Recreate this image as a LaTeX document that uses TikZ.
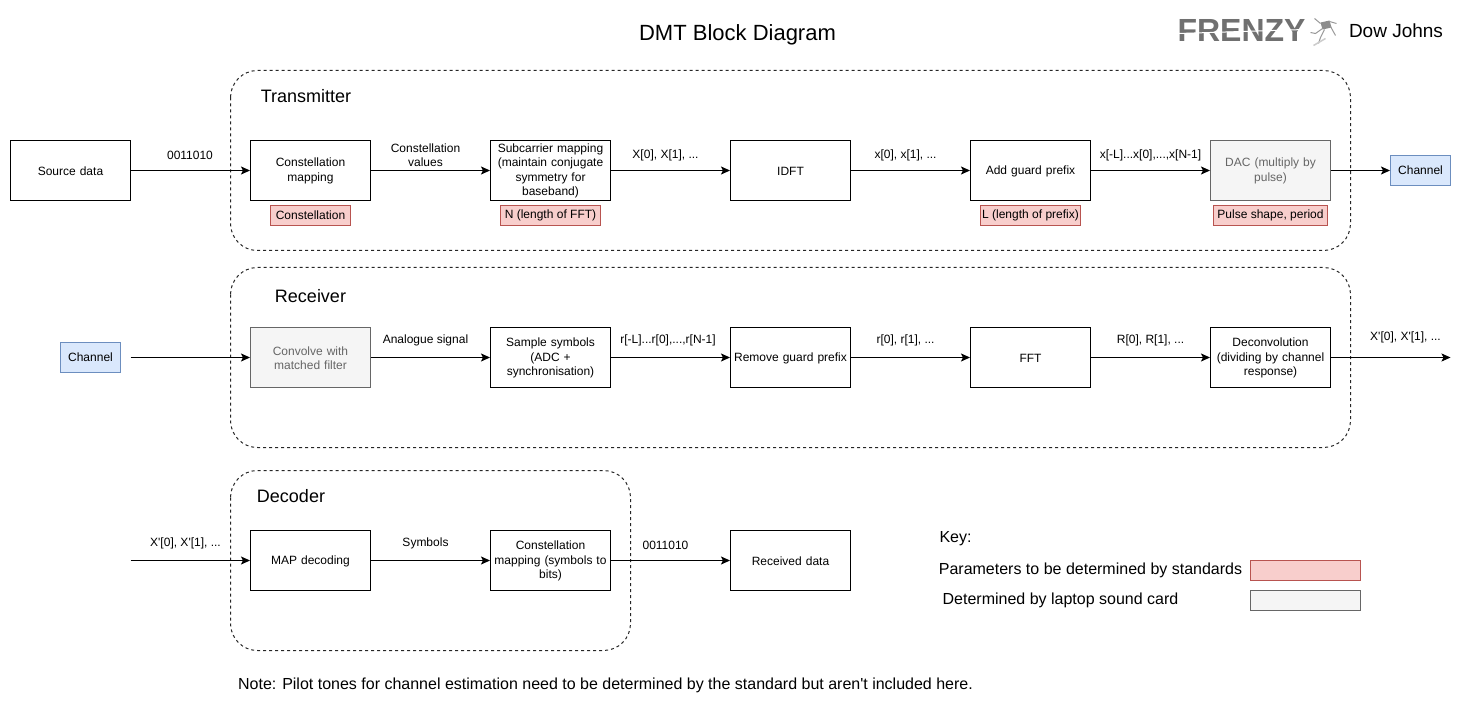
\documentclass[tikz,border=0pt]{standalone}
\usepackage{fontspec}
\setmainfont{Liberation Sans}[Ligatures=TeXOff]
\usetikzlibrary{arrows.meta}
\definecolor{paramfill}{HTML}{F8CECC}
\definecolor{paramline}{HTML}{B85450}
\definecolor{chanfill}{HTML}{DAE8FC}
\definecolor{chanline}{HTML}{6C8EBF}
\definecolor{soundfill}{HTML}{F5F5F5}
\definecolor{soundline}{HTML}{666666}
\definecolor{logogrey}{HTML}{707070}

\begin{document}
\begin{tikzpicture}
            [x=1pt,y=-1pt,line width=1pt,font=\fontsize{12}{14.4}\selectfont,
            block/.style={draw=black,fill=white,minimum width=120pt,minimum height=60pt,inner sep=1pt,align=center,text width=118pt,execute at begin node={\rule{0pt}{9.6pt}}},
            sound/.style={block,draw=soundline,fill=soundfill,text=soundline},
            param/.style={draw=paramline,fill=paramfill,minimum height=20pt,inner sep=1pt,align=center},
            soundkey/.style={draw=soundline,fill=soundfill,minimum height=20pt,inner sep=1pt},
            channel/.style={draw=chanline,fill=chanfill,minimum width=60pt,minimum height=30pt,inner sep=1pt},
            frame/.style={draw=black!85,dash pattern=on 3pt off 3pt,rounded corners=27pt},
            label/.style={inner sep=0pt,align=center},
            heading/.style={label,font=\fontsize{18}{22}\selectfont},
            keytext/.style={label,font=\fontsize{16}{19}\selectfont},
            link/.style={-{Stealth[length=9pt,width=8pt,inset=2pt]},draw=black}]
            \useasboundingbox (-0.5,-0.5) rectangle (1468.5,710.5);

            \node[label,font=\fontsize{22}{26}\selectfont] (title) at (737,34) {DMT Block Diagram};
            \node[label,font=\fontsize{32}{36}\bfseries\selectfont,text=logogrey] (logo) at (1241,30) {FRENZY};
            \node[label,font=\fontsize{19}{23}\selectfont] (owner) at (1395.5,30) {Dow Johns};

            % logo figure
            \draw[white,line width=1pt] (1178,33) -- (1304,29);
            \fill[black!45] (1320,22) -- (1329,20) -- (1331,27) -- (1322,29) -- cycle;
            \draw[black!40,line width=1pt] (1322,28) -- (1315,33) -- (1310,32) (1324,29) -- (1320,37) -- (1318,43) (1330,26) -- (1335,35) (1329,21) -- (1336,23) (1320,23) -- (1314,18);
            \draw[black!20,line width=1.5pt] (1313,45) -- (1325,38);

            % frames
            \draw[frame] (230,70) rectangle (1350,250);
            \draw[frame] (230,267) rectangle (1350,447);
            \draw[frame] (230,470) rectangle (630,650);
            \node[heading] (TXname) at (305.5,95.5) {Transmitter};
            \node[heading] (RXname) at (310,295.5) {Receiver};
            \node[heading] (DECname) at (290.5,495.5) {Decoder};

            % transmitter
            \node[block] (T1) at (70,170) {Source data};
            \node[block] (T2) at (310,170) {Constellation\\mapping};
            \node[block] (T3) at (550,170) {Subcarrier mapping\\(maintain conjugate\\symmetry for\\baseband)};
            \node[block] (T4) at (790,170) {IDFT};
            \node[block] (T5) at (1030,170) {Add guard prefix};
            \node[sound] (T6) at (1270,170) {DAC (multiply by\\pulse)};
            \node[channel] (T7) at (1420,170) {Channel};

            \node[param,minimum width=80pt] (P1) at (310,215) {Constellation};
            \node[param,minimum width=100pt] (P2) at (550,215) {N (length of FFT)};
            \node[param,minimum width=100pt] (P3) at (1030,215) {L (length of prefix)};
            \node[param,minimum width=114pt] (P4) at (1270,215) {Pulse shape, period};

            \draw[link] (T1) -- (T2);
            \draw[link] (T2) -- (T3);
            \draw[link] (T3) -- (T4);
            \draw[link] (T4) -- (T5);
            \draw[link] (T5) -- (T6);
            \draw[link] (T6) -- (T7);

            \node[label] (L1) at (189.5,155) {0011010};
            \node[label] (L2) at (425,155) {Constellation\\values};
            \node[label] (L3) at (665,155) {X[0], X[1], ...};
            \node[label] (L4) at (905,155) {x[0], x[1], ...};
            \node[label] (L5) at (1150,155) {x[-L]...x[0],...,x[N-1]};

            % receiver
            \node[channel] (R0) at (90,357) {Channel};
            \node[sound] (R1) at (310,357) {Convolve with\\matched filter};
            \node[block] (R2) at (550,357) {Sample symbols\\(ADC +\\synchronisation)};
            \node[block] (R3) at (790,357) {Remove guard prefix};
            \node[block] (R4) at (1030,357) {FFT};
            \node[block] (R5) at (1270,357) {Deconvolution\\(dividing by channel\\response)};
            \coordinate (Rin) at (130,357);
            \coordinate (Rout) at (1450,357);

            \draw[link] (Rin) -- (R1);
            \draw[link] (R1) -- (R2);
            \draw[link] (R2) -- (R3);
            \draw[link] (R3) -- (R4);
            \draw[link] (R4) -- (R5);
            \draw[link] (R5) -- (Rout);

            \node[label] (L6) at (425,340) {Analogue signal};
            \node[label] (L7) at (667.5,340) {r[-L]...r[0],...,r[N-1]};
            \node[label] (L8) at (905,340) {r[0], r[1], ...};
            \node[label] (L9) at (1150,340) {R[0], R[1], ...};
            \node[label] (L10) at (1405,337) {X'[0], X'[1], ...};

            % decoder
            \coordinate (Din) at (130,560);
            \node[block] (D1) at (310,560) {MAP decoding};
            \node[block] (D2) at (550,560) {Constellation\\mapping (symbols to\\bits)};
            \node[block] (D3) at (790,560) {Received data};

            \draw[link] (Din) -- (D1);
            \draw[link] (D1) -- (D2);
            \draw[link] (D2) -- (D3);

            \node[label] (L11) at (185,543) {X'[0], X'[1], ...};
            \node[label] (L12) at (425,543) {Symbols};
            \node[label] (L13) at (665,545) {0011010};

            % key
            \node[keytext] (K0) at (955,538) {Key:};
            \node[keytext] (K1) at (1090,570) {Parameters to be determined by standards};
            \node[keytext] (K2) at (1060,600) {Determined by laptop sound card};
            \node[param,minimum width=110pt] (K3) at (1305,570) {};
            \node[soundkey,minimum width=110pt] (K4) at (1305,600) {};

            \node[keytext] (note) at (605,685) {Note: Pilot tones for channel estimation need to be determined by the standard but aren't included here.};
        \end{tikzpicture}
\end{document}
